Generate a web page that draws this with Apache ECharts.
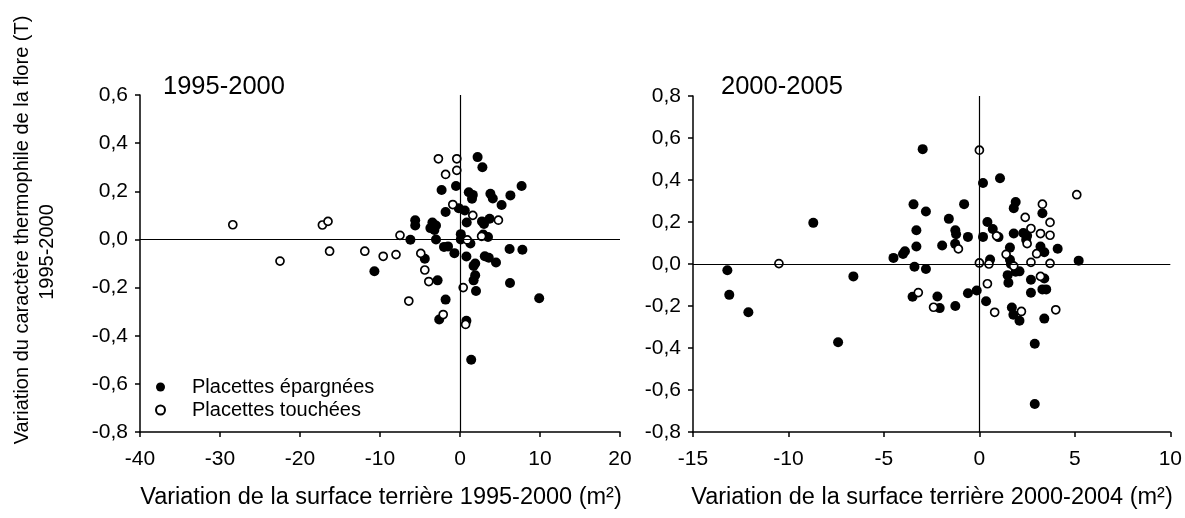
<!DOCTYPE html>
<html>
<head>
<meta charset="utf-8">
<script src="https://cdn.jsdelivr.net/npm/echarts@6/dist/echarts.min.js"></script>
<style>
html,body{margin:0;padding:0;background:#fff;}
#c{width:1185px;height:518px;}
</style>
</head>
<body>
<div id="c"></div>
<script>
// ---- Data ----
const panelTitles = ['1995-2000', '2000-2005'];
const seriesNames = ['Placettes épargnées', 'Placettes touchées'];
const xTitles = ['Variation de la surface terrière 1995-2000 (m²)', 'Variation de la surface terrière 2000-2004 (m²)'];
const yTitleLine1 = 'Variation du caractère thermophile de la flore (T)';
const yTitleLine2 = '1995-2000';

// Panel 1 (1995-2000): [surface variation, T variation]
const spared1 = [
  [2.2,0.342],[2.8,0.30],[-2.3,0.205],[-0.5,0.222],[1.1,0.196],[1.6,0.185],[1.5,0.169],
  [3.8,0.19],[4.1,0.17],[5.2,0.143],[6.3,0.183],[7.7,0.222],[-1.8,0.114],[-0.16,0.13],
  [0.6,0.12],[0.84,0.07],[-5.6,0.08],[-5.6,0.058],[-3.45,0.07],[-3.0,0.058],[-3.7,0.047],
  [-3.2,0.039],[2.75,0.075],[3.7,0.086],[3.0,0.064],[2.9,0.02],[3.5,0.01],[0.1,0.022],
  [0.1,0.0],[-6.2,-0.001],[-3.0,0.0],[1.3,-0.017],[-2.0,-0.031],[-1.5,-0.029],[-0.7,-0.057],
  [0.8,-0.071],[1.7,-0.11],[1.9,-0.1],[3.1,-0.07],[3.6,-0.076],[4.5,-0.096],[6.2,-0.04],
  [7.8,-0.043],[-4.4,-0.08],[1.9,-0.149],[1.7,-0.17],[2.0,-0.214],[-2.8,-0.17],[6.25,-0.181],
  [9.9,-0.244],[-1.8,-0.25],[-2.6,-0.333],[0.8,-0.338],[1.4,-0.5],[-10.7,-0.132]
];
const touched1 = [
  [-2.7,0.335],[-0.4,0.335],[-1.8,0.27],[-0.4,0.287],[-0.9,0.145],[1.6,0.10],[4.8,0.08],
  [-28.4,0.061],[-17.2,0.06],[-16.5,0.075],[-7.5,0.017],[-16.3,-0.049],[-22.5,-0.09],
  [-11.9,-0.049],[-9.6,-0.07],[-8.0,-0.063],[-4.9,-0.058],[-4.4,-0.127],[-3.9,-0.175],
  [-6.4,-0.256],[-2.1,-0.312],[0.7,-0.353],[0.4,-0.2],[0.9,-0.002],[2.7,0.013]
];

// Panel 2 (2000-2005)
const spared2 = [
  [-13.2,-0.03],[-13.1,-0.147],[-12.1,-0.23],[-8.7,0.196],[-7.4,-0.373],[-6.6,-0.059],
  [-4.5,0.029],[-4.0,0.048],[-3.9,0.061],[-3.3,0.083],[-3.3,0.161],[-3.45,0.284],[-2.8,0.25],
  [-2.97,0.547],[-3.4,-0.013],[-2.8,-0.024],[-3.5,-0.156],[-2.2,-0.155],[-2.08,-0.21],
  [-1.95,0.088],[-1.6,0.215],[-1.26,0.161],[-1.22,0.142],[-1.27,0.096],[-0.6,0.129],
  [-0.8,0.285],[-1.26,-0.2],[-0.6,-0.139],[-0.14,-0.126],[0.19,0.386],[1.08,0.408],
  [0.19,0.129],[0.42,0.2],[0.7,0.167],[1.0,0.128],[0.56,0.021],[0.35,-0.177],[1.6,0.078],
  [1.8,0.266],[1.9,0.295],[1.8,0.145],[1.6,0.02],[1.65,0.0],[1.48,-0.053],[1.52,-0.089],
  [1.7,-0.207],[1.78,-0.242],[2.1,-0.27],[1.9,-0.037],[2.1,-0.035],[2.3,0.148],[2.5,0.134],
  [2.45,0.116],[2.7,-0.075],[2.7,-0.137],[2.9,-0.38],[2.9,-0.667],[3.2,0.083],[3.4,0.056],
  [3.3,0.242],[3.4,-0.069],[3.3,-0.121],[3.5,-0.121],[3.4,-0.26],[4.1,0.073],[5.2,0.016]
];
const touched2 = [
  [-10.5,0.002],[0,0.542],[5.1,0.33],[-1.1,0.072],[-3.2,-0.136],[-2.4,-0.206],[0,0.005],
  [0.5,0.0],[0.42,-0.094],[0.8,-0.23],[0.9,0.134],[1.4,0.046],[1.8,-0.01],[2.4,0.222],
  [2.5,0.097],[2.7,0.169],[2.7,0.008],[3.0,0.049],[3.2,0.145],[3.2,-0.059],[3.3,0.285],
  [3.7,0.198],[3.7,0.137],[3.7,0.003],[4.0,-0.218],[2.2,-0.226]
];

// Axis ranges
const xRanges = [[-40, 20, 10], [-15, 10, 5]];
const yRanges = [[-0.8, 0.6, 0.2], [-0.8, 0.8, 0.2]];

// ---- Chart ----
const FONT = 'Liberation Sans, Arial, sans-serif';
const chart = echarts.init(document.getElementById('c'), null, {renderer: 'canvas'});
const fmtY = v => (Math.abs(v) < 1e-9 ? 0 : v).toFixed(1).replace('.', ',');

function xAxisCfg(i) {
  return {
    type: 'value', gridIndex: i, min: xRanges[i][0], max: xRanges[i][1], interval: xRanges[i][2],
    axisLine: {show: true, onZero: false, lineStyle: {color: '#000', width: 1.5}},
    axisTick: {show: true, inside: false, length: 5, lineStyle: {color: '#000', width: 1.5}},
    axisLabel: {color: '#000', fontSize: 21, fontFamily: FONT, margin: 17},
    splitLine: {show: false}
  };
}
function yAxisCfg(i) {
  return {
    type: 'value', gridIndex: i, min: yRanges[i][0], max: yRanges[i][1], interval: yRanges[i][2],
    axisLine: {show: true, onZero: false, lineStyle: {color: '#000', width: 1.5}},
    axisTick: {show: true, inside: false, length: 5, lineStyle: {color: '#000', width: 1.5}},
    axisLabel: {color: '#000', fontSize: 21, fontFamily: FONT, margin: 12, formatter: fmtY},
    splitLine: {show: false}
  };
}
const zeroLines = {
  silent: true, symbol: 'none', animation: false,
  label: {show: false},
  lineStyle: {color: '#000', width: 1.2, type: 'solid'},
  emphasis: {disabled: true},
  data: [{xAxis: 0}, {yAxis: 0}]
};
function filled(name, data, i, withLines) {
  const s = {
    name, type: 'scatter', xAxisIndex: i, yAxisIndex: i, data,
    symbol: 'circle', symbolSize: 10,
    itemStyle: {color: '#000', borderColor: '#000', borderWidth: 0, opacity: 1},
    emphasis: {disabled: true}, z: 3
  };
  if (withLines) s.markLine = zeroLines;
  return s;
}
function open(name, data, i) {
  return {
    name, type: 'scatter', xAxisIndex: i, yAxisIndex: i, data,
    symbol: 'circle', symbolSize: 8,
    itemStyle: {color: '#fff', borderColor: '#000', borderWidth: 1.7, opacity: 1},
    emphasis: {disabled: true}, z: 4
  };
}

const option = {
  backgroundColor: '#fff',
  animation: false,
  textStyle: {fontFamily: FONT},
  title: [
    {text: panelTitles[0], left: 158, top: 69, textStyle: {fontSize: 25.5, fontWeight: 'normal', color: '#000', fontFamily: FONT}},
    {text: panelTitles[1], left: 716, top: 69, textStyle: {fontSize: 25.5, fontWeight: 'normal', color: '#000', fontFamily: FONT}}
  ],
  grid: [
    {left: 140, top: 95, width: 480, height: 337, containLabel: false},
    {left: 693, top: 96, width: 478, height: 336, containLabel: false}
  ],
  xAxis: [xAxisCfg(0), xAxisCfg(1)],
  yAxis: [yAxisCfg(0), yAxisCfg(1)],
  legend: {
    show: true, orient: 'vertical', left: 150, top: 372, itemGap: 3,
    itemWidth: 9, itemHeight: 9,
    data: [seriesNames[0], seriesNames[1]],
    textStyle: {fontSize: 20, color: '#000', fontFamily: FONT, padding: [0, 0, 0, 22]},
    selectedMode: false
  },
  series: [
    filled(seriesNames[0], spared1, 0, true),
    open(seriesNames[1], touched1, 0),
    filled(seriesNames[0], spared2, 1, true),
    open(seriesNames[1], touched2, 1)
  ],
  graphic: [
    {type: 'text', x: 22, y: 230, rotation: Math.PI / 2,
     style: {text: yTitleLine1, fill: '#000', font: '20px ' + FONT, textAlign: 'center', textVerticalAlign: 'middle'}},
    {type: 'text', x: 47, y: 252, rotation: Math.PI / 2,
     style: {text: yTitleLine2, fill: '#000', font: '20px ' + FONT, textAlign: 'center', textVerticalAlign: 'middle'}},
    {type: 'text', x: 381, y: 498,
     style: {text: xTitles[0], fill: '#000', font: '23.5px ' + FONT, textAlign: 'center', textVerticalAlign: 'middle'}},
    {type: 'text', x: 932, y: 498,
     style: {text: xTitles[1], fill: '#000', font: '23.5px ' + FONT, textAlign: 'center', textVerticalAlign: 'middle'}}
  ]
};
chart.setOption(option);
</script>
</body>
</html>
